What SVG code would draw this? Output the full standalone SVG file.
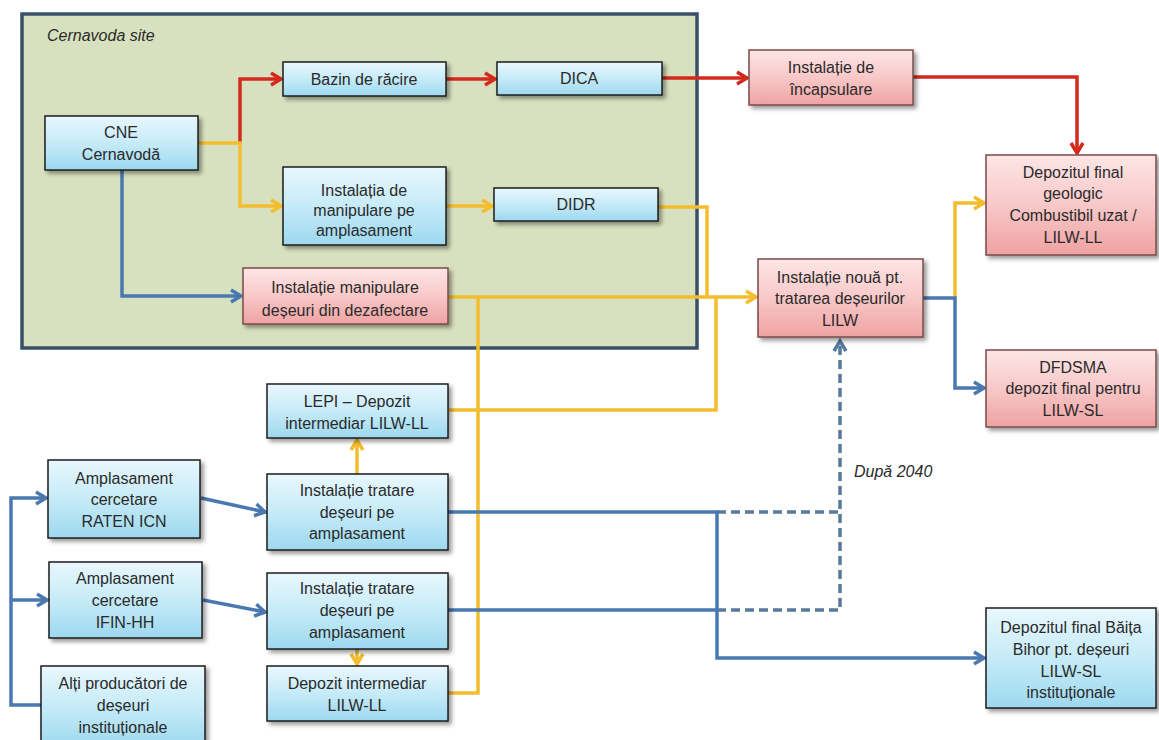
<svg xmlns="http://www.w3.org/2000/svg" width="1159" height="740" viewBox="0 0 1159 740">
<style>
text{font-family:"Liberation Sans",Arial,sans-serif;font-size:16px;fill:#2a2a2a;text-anchor:middle}
.it{font-style:italic;text-anchor:start;font-size:16px}
.bb{fill:url(#gb);stroke:#1e1e1e;stroke-width:1.5;filter:url(#sh)}
.pb{fill:url(#gp);stroke:#7a4a4a;stroke-width:1.5;filter:url(#sh)}
.c{fill:none;stroke-width:3.5;stroke-linejoin:miter}
.r{stroke:#d42a1e}
.y{stroke:#f3bd2e}
.b{stroke:#4a78b0}
.d{stroke:#587a9c;stroke-dasharray:9 5}
</style>
<defs>
<linearGradient id="gb" x1="0" y1="0" x2="0" y2="1"><stop offset="0" stop-color="#e9f7fd"/><stop offset="0.5" stop-color="#c6ebf8"/><stop offset="1" stop-color="#9dd8ef"/></linearGradient>
<linearGradient id="gp" x1="0" y1="0" x2="0" y2="1"><stop offset="0" stop-color="#fde6e6"/><stop offset="0.5" stop-color="#f8c8c8"/><stop offset="1" stop-color="#efa2a2"/></linearGradient>
<filter id="sh" x="-10%" y="-10%" width="130%" height="140%"><feDropShadow dx="3" dy="3" stdDeviation="2" flood-color="#000" flood-opacity="0.4"/></filter>
<marker id="ar" markerUnits="userSpaceOnUse" markerWidth="16" markerHeight="16" viewBox="0 0 16 16" refX="13" refY="8" orient="auto"><path d="M3,2 L13,8 L3,14" fill="none" stroke="#d42a1e" stroke-width="3.5"/></marker>
<marker id="ay" markerUnits="userSpaceOnUse" markerWidth="16" markerHeight="16" viewBox="0 0 16 16" refX="13" refY="8" orient="auto"><path d="M3,2 L13,8 L3,14" fill="none" stroke="#f3bd2e" stroke-width="3.5"/></marker>
<marker id="ab" markerUnits="userSpaceOnUse" markerWidth="16" markerHeight="16" viewBox="0 0 16 16" refX="13" refY="8" orient="auto"><path d="M3,2 L13,8 L3,14" fill="none" stroke="#4a78b0" stroke-width="3.5"/></marker>
<marker id="ad" markerUnits="userSpaceOnUse" markerWidth="16" markerHeight="16" viewBox="0 0 16 16" refX="13" refY="8" orient="auto"><path d="M3,2 L13,8 L3,14" fill="none" stroke="#587a9c" stroke-width="3.5"/></marker>
</defs>
<rect width="1159" height="740" fill="#ffffff"/>
<g id="site">
<rect x="22" y="14" width="675" height="334" fill="#d8e1bf" stroke="#3a5068" stroke-width="3.5"/>
<text class="it" x="47" y="41">Cernavoda  site</text>
</g>
<g id="connectors">
<path class="c r" d="M240,143 V79 H281" marker-end="url(#ar)"/>
<path class="c r" d="M446,79 H495" marker-end="url(#ar)"/>
<path class="c r" d="M662,78 H747" marker-end="url(#ar)"/>
<path class="c r" d="M913,77 H1077 V153" marker-end="url(#ar)"/>
<path class="c y" d="M198,143 H240 V206 H281" marker-end="url(#ay)"/>
<path class="c y" d="M446,206 H492" marker-end="url(#ay)"/>
<path class="c y" d="M658,207 H707 V297"/>
<path class="c y" d="M448,297 H756" marker-end="url(#ay)"/>
<path class="c y" d="M449,410 H716 V297"/>
<path class="c y" d="M448,693 H478 V297"/>
<path class="c y" d="M357,474 V440" marker-end="url(#ay)"/>
<path class="c y" d="M357,649 V664" marker-end="url(#ay)"/>
<path class="c y" d="M955,298 V203 H984" marker-end="url(#ay)"/>
<path class="c b" d="M122,170 V296 H241" marker-end="url(#ab)"/>
<path class="c b" d="M41,705 H11 V498 H46" marker-end="url(#ab)"/>
<path class="c b" d="M11,600 H47" marker-end="url(#ab)"/>
<path class="c b" d="M201,498 L265,512" marker-end="url(#ab)"/>
<path class="c b" d="M203,600 L265,612" marker-end="url(#ab)"/>
<path class="c d" d="M717,512 H840"/>
<path class="c d" d="M717,610 H840 V341" marker-end="url(#ad)"/>
<path class="c b" d="M448,512 H717 V658 H984" marker-end="url(#ab)"/>
<path class="c b" d="M448,610 H717"/>
<path class="c b" d="M923,298 H955 V388 H984" marker-end="url(#ab)"/>
<text class="it" x="854" y="477">După  2040</text>
</g>
<g id="cne"><rect class="bb" x="45" y="116" width="153" height="54"/><text x="121" y="138">CNE</text><text x="121" y="160">Cernavodă</text></g>
<g id="bazin"><rect class="bb" x="283" y="62" width="163" height="34"/><text x="364" y="85">Bazin de răcire</text></g>
<g id="dica"><rect class="bb" x="497" y="62" width="165" height="33"/><text x="579" y="84">DICA</text></g>
<g id="incapsulare"><rect class="pb" x="749" y="50" width="164" height="55"/><text x="831" y="73">Instalație de</text><text x="831" y="95">încapsulare</text></g>
<g id="geologic"><rect class="pb" x="986" y="155" width="170" height="100"/><text x="1073" y="178">Depozitul final</text><text x="1073" y="199">geologic</text><text x="1073" y="221">Combustibil uzat /</text><text x="1073" y="243">LILW-LL</text></g>
<g id="manipulare"><rect class="bb" x="283" y="167" width="163" height="78"/><text x="364" y="196">Instalația de</text><text x="364" y="216">manipulare pe</text><text x="364" y="236">amplasament</text></g>
<g id="didr"><rect class="bb" x="494" y="188" width="164" height="33"/><text x="576" y="210">DIDR</text></g>
<g id="dezafectare"><rect class="pb" x="243" y="268" width="205" height="56"/><text x="345" y="293">Instalație manipulare</text><text x="345" y="316">deșeuri din dezafectare</text></g>
<g id="noua"><rect class="pb" x="758" y="259" width="165" height="78"/><text x="840" y="283">Instalație nouă pt.</text><text x="840" y="304">tratarea deșeurilor</text><text x="840" y="326">LILW</text></g>
<g id="dfdsma"><rect class="pb" x="986" y="350" width="170" height="77"/><text x="1073" y="373">DFDSMA</text><text x="1073" y="394">depozit final pentru</text><text x="1073" y="416">LILW-SL</text></g>
<g id="lepi"><rect class="bb" x="267" y="384" width="181" height="54"/><text x="357" y="407">LEPI – Depozit</text><text x="357" y="429">intermediar LILW-LL</text></g>
<g id="raten"><rect class="bb" x="48" y="460" width="152" height="78"/><text x="124" y="484">Amplasament</text><text x="124" y="505">cercetare</text><text x="124" y="527">RATEN ICN</text></g>
<g id="tratare1"><rect class="bb" x="267" y="474" width="181" height="76"/><text x="357" y="496">Instalație tratare</text><text x="357" y="518">deșeuri pe</text><text x="357" y="539">amplasament</text></g>
<g id="ifin"><rect class="bb" x="49" y="562" width="153" height="76"/><text x="125" y="584">Amplasament</text><text x="125" y="606">cercetare</text><text x="125" y="628">IFIN-HH</text></g>
<g id="tratare2"><rect class="bb" x="267" y="573" width="181" height="76"/><text x="357" y="594">Instalație tratare</text><text x="357" y="616">deșeuri pe</text><text x="357" y="638">amplasament</text></g>
<g id="altii"><rect class="bb" x="41" y="666" width="164" height="82"/><text x="123" y="689">Alți producători de</text><text x="123" y="711">deșeuri</text><text x="123" y="733">instituționale</text></g>
<g id="intermediar"><rect class="bb" x="267" y="666" width="181" height="55"/><text x="357" y="689">Depozit intermediar</text><text x="357" y="711">LILW-LL</text></g>
<g id="baita"><rect class="bb" x="986" y="608" width="170" height="100"/><text x="1071" y="633">Depozitul final Băița</text><text x="1071" y="655">Bihor  pt. deșeuri</text><text x="1071" y="677">LILW-SL</text><text x="1071" y="698">instituționale</text></g>
</svg>
